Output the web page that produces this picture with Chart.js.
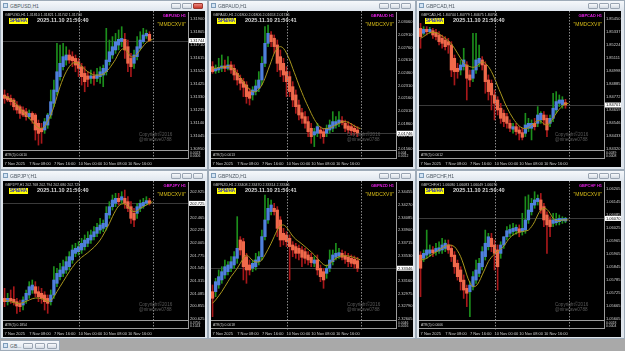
<!DOCTYPE html>
<html><head><meta charset="utf-8">
<script src="https://cdn.jsdelivr.net/npm/chart.js@4/dist/chart.umd.min.js"></script>
<style>
html,body{margin:0;padding:0;width:625px;height:351px;overflow:hidden;background:#a9a9a9;font-family:"Liberation Sans",Arial,sans-serif;}
.win{position:absolute;background:#dfe5ec;border:1px solid #9eabb8;box-sizing:border-box;}
.tbar{position:absolute;left:0;top:0;right:0;height:10px;background:linear-gradient(#f5f8fb,#dfe6ee);}
.ttl{position:absolute;left:9px;top:2px;font-size:5px;line-height:6px;color:#4d5863;white-space:nowrap;}
.icon{position:absolute;left:2px;top:2px;width:5px;height:5px;border:1px solid #7c9cba;background:#d3e3f3;box-sizing:border-box;}
.btn{position:absolute;top:2px;width:10px;height:6px;border:1px solid #9aa5b2;border-radius:1px;background:linear-gradient(#f7f9fb,#d6dde5);box-sizing:border-box;}
.btn.red{background:linear-gradient(#ec8a80,#c8382c);border-color:#9c3a30;}
.blk{position:absolute;left:2px;top:10px;width:202px;height:156px;background:#000;overflow:hidden;}
.blk canvas{position:absolute;left:0;top:0;}
.hdr{position:absolute;left:2px;top:1.5px;font-size:3.6px;line-height:4px;color:#cfcfcf;white-space:nowrap;}
.badge{position:absolute;left:6px;top:7px;width:19px;height:6px;background:#ffff00;color:#1818c8;font-weight:bold;font-size:4.5px;line-height:6px;text-align:center;}
.dt{position:absolute;left:34px;top:6px;font-size:5.6px;font-weight:bold;color:#d8d8d8;line-height:7px;white-space:nowrap;}
.sym{position:absolute;right:19px;top:2.5px;font-size:4px;line-height:4.5px;font-weight:bold;color:#e81ee8;white-space:nowrap;}
.mm{position:absolute;right:19px;top:10px;font-size:5px;line-height:6px;color:#d8bd18;white-space:nowrap;}
.wm{position:absolute;left:136px;top:121px;font-size:4.6px;color:#5a5a5a;line-height:5px;white-space:nowrap;}
.atr{position:absolute;left:0;top:139px;width:186px;height:9px;border-top:1px solid #9c9c9c;border-bottom:1px solid #9c9c9c;border-right:1px solid #9c9c9c;box-sizing:border-box;}
.atrt{position:absolute;left:2px;top:1.5px;font-size:3.4px;line-height:4px;color:#d0d0d0;white-space:nowrap;}
.atrs{position:absolute;left:187px;top:140.5px;font-size:3.4px;color:#d0d0d0;line-height:3.6px;}
.mini{position:absolute;left:0;top:340px;width:60px;height:11px;background:linear-gradient(#f5f8fb,#dfe6ee);border:1px solid #9eabb8;box-sizing:border-box;}
</style></head>
<body>
<div class="mini"><div class="icon" style="top:2px"></div><div class="ttl" style="left:9px;top:2px">GB...</div><div class="btn" style="left:22px;top:2px"></div><div class="btn" style="left:34px;top:2px"></div><div class="btn" style="left:46px;top:2px"></div></div>
<script>
// ---- time axis ----
const timeLabels = ['7 Nov 2025','7 Nov 08:00','7 Nov 16:00','10 Nov 00:00','10 Nov 08:00','10 Nov 16:00'];
const timeLabelIdx = [0, 8, 16, 24, 32, 40];
const slotCount = 60;
const daySepIdx = 24;
const endLineIdx = 48;

// ---- GBPUSD [open, high, low, close] ----
const gbpusdBars = [
[1.31344,1.31381,1.31283,1.31319],[1.31332,1.31356,1.31295,1.31307],[1.31319,1.31344,1.31270,1.31295],[1.31307,1.31319,1.31234,1.31258],
[1.31270,1.31295,1.31209,1.31234],[1.31258,1.31270,1.31172,1.31209],[1.31234,1.31258,1.31185,1.31197],[1.31221,1.31246,1.31160,1.31185],
[1.31185,1.31234,1.31172,1.31209],[1.31209,1.31221,1.31136,1.31160],[1.31197,1.31209,1.31013,1.31087],[1.31136,1.31160,1.30976,1.31062],
[1.31099,1.31136,1.30989,1.31074],[1.31087,1.31172,1.31062,1.31148],[1.31123,1.31209,1.31099,1.31197],[1.31197,1.31381,1.31172,1.31295],
[1.31283,1.31454,1.31258,1.31381],[1.31368,1.31724,1.31344,1.31515],[1.31479,1.31711,1.31454,1.31577],[1.31552,1.31724,1.31528,1.31626],
[1.31601,1.31699,1.31564,1.31638],[1.31638,1.31675,1.31577,1.31601],[1.31626,1.31662,1.31552,1.31596],[1.31613,1.31638,1.31515,1.31564],
[1.31589,1.31613,1.31479,1.31540],[1.31552,1.31577,1.31417,1.31479],[1.31503,1.31552,1.31368,1.31442],[1.31484,1.31515,1.31405,1.31459],
[1.31466,1.31528,1.31430,1.31484],[1.31484,1.31515,1.31417,1.31466],[1.31466,1.31540,1.31442,1.31491],[1.31479,1.31552,1.31430,1.31515],
[1.31491,1.31564,1.31405,1.31540],[1.31515,1.31834,1.31491,1.31601],[1.31589,1.31748,1.31564,1.31662],[1.31638,1.31773,1.31613,1.31699],
[1.31675,1.31797,1.31650,1.31736],[1.31711,1.31822,1.31675,1.31753],[1.31736,1.31846,1.31699,1.31760],[1.31753,1.31797,1.31613,1.31675],
[1.31699,1.31748,1.31515,1.31577],[1.31613,1.31650,1.31479,1.31552],[1.31577,1.31675,1.31540,1.31638],[1.31626,1.31773,1.31601,1.31699],
[1.31687,1.31809,1.31675,1.31748],[1.31736,1.31834,1.31724,1.31785],[1.31778,1.31822,1.31760,1.31797],[1.31790,1.31809,1.31736,1.31744]];
const gbpusdMA = [1.31332,1.31327,1.31312,1.31295,1.31270,1.31246,1.31221,1.31197,1.31172,1.31148,1.31123,1.31104,1.31099,1.31111,1.31148,1.31197,1.31258,1.31332,1.31405,1.31466,1.31515,1.31552,1.31577,1.31582,1.31577,1.31557,1.31533,1.31515,1.31503,1.31491,1.31491,1.31491,1.31498,1.31515,1.31540,1.31572,1.31606,1.31650,1.31680,1.31680,1.31655,1.31626,1.31626,1.31645,1.31675,1.31704,1.31729,1.31743,1.31753];
const gbpusdTicks = [1.31900,1.31805,1.31710,1.31615,1.31520,1.31425,1.31330,1.31235,1.31140,1.31045,1.30950];

// ---- GBPAUD ----
const gbpaudBars = [
[2.02535,2.02594,2.02456,2.02476],[2.02484,2.02555,2.02456,2.02515],[2.02496,2.02634,2.02464,2.02527],[2.02515,2.02673,2.02476,2.02543],
[2.02543,2.02614,2.02476,2.02515],[2.02515,2.02653,2.02496,2.02555],[2.02555,2.02594,2.02456,2.02496],[2.02515,2.02555,2.02377,2.02436],
[2.02456,2.02496,2.02318,2.02377],[2.02397,2.02436,2.02259,2.02338],[2.02357,2.02397,2.02180,2.02290],[2.02318,2.02357,2.02101,2.02180],
[2.02239,2.02278,2.02081,2.02160],[2.02200,2.02298,2.02140,2.02259],[2.02239,2.02377,2.02200,2.02306],[2.02278,2.02476,2.02239,2.02377],
[2.02377,2.02653,2.02318,2.02574],[2.02574,2.03009,2.02535,2.02811],[2.02811,2.03028,2.02772,2.02930],[2.02910,2.02949,2.02772,2.02831],
[2.02871,2.02910,2.02693,2.02772],[2.02792,2.02851,2.02476,2.02574],[2.02653,2.02732,2.02417,2.02496],[2.02574,2.02634,2.02357,2.02436],
[2.02476,2.02535,2.02180,2.02357],[2.02417,2.02476,2.02180,2.02239],[2.02298,2.02357,2.02061,2.02140],[2.02200,2.02259,2.01982,2.02061],
[2.02081,2.02140,2.01903,2.01963],[2.01990,2.02042,2.01864,2.01923],[2.01943,2.02002,2.01805,2.01864],[2.01884,2.01943,2.01706,2.01765],
[2.01805,2.01864,2.01627,2.01706],[2.01726,2.01805,2.01588,2.01765],[2.01746,2.01864,2.01706,2.01825],[2.01785,2.01825,2.01686,2.01746],
[2.01765,2.01805,2.01627,2.01706],[2.01746,2.01844,2.01706,2.01805],[2.01785,2.01903,2.01746,2.01844],[2.01805,2.02002,2.01765,2.01884],
[2.01844,2.01943,2.01805,2.01884],[2.01864,2.02002,2.01825,2.01903],[2.01895,2.01943,2.01844,2.01872],[2.01864,2.01903,2.01765,2.01805],
[2.01833,2.01884,2.01746,2.01785],[2.01825,2.01864,2.01726,2.01777],[2.01805,2.01844,2.01726,2.01765],[2.01785,2.01825,2.01706,2.01746]];
const gbpaudMA = [2.02515,2.02515,2.02523,2.02527,2.02535,2.02535,2.02527,2.02496,2.02456,2.02409,2.02357,2.02306,2.02267,2.02239,2.02239,2.02267,2.02318,2.02397,2.02496,2.02594,2.02693,2.02752,2.02772,2.02752,2.02693,2.02614,2.02515,2.02417,2.02318,2.02227,2.02140,2.02061,2.01982,2.01911,2.01856,2.01817,2.01801,2.01801,2.01809,2.01825,2.01844,2.01864,2.01880,2.01884,2.01876,2.01856,2.01833,2.01813,2.01801];
const gbpaudTicks = [2.03060,2.02910,2.02760,2.02610,2.02460,2.02310,2.02160,2.02010,2.01860,2.01710,2.01560];

// ---- GBPCAD ----
const gbpcadBars = [
[1.85371,1.85415,1.85197,1.85299],[1.85328,1.85386,1.85313,1.85363],[1.85363,1.85386,1.85313,1.85342],[1.85342,1.85380,1.85328,1.85363],
[1.85351,1.85371,1.85284,1.85313],[1.85334,1.85363,1.85269,1.85299],[1.85313,1.85342,1.85226,1.85255],[1.85284,1.85313,1.85197,1.85240],
[1.85269,1.85299,1.85182,1.85211],[1.85255,1.85284,1.85153,1.85226],[1.85226,1.85255,1.84949,1.85007],[1.85109,1.85138,1.84876,1.84993],
[1.85022,1.85066,1.84935,1.84993],[1.85007,1.85095,1.84964,1.85051],[1.85037,1.85197,1.85007,1.85095],[1.85051,1.85080,1.84745,1.84935],
[1.84964,1.85007,1.84862,1.84920],[1.84935,1.85328,1.84905,1.85007],[1.85007,1.85328,1.84978,1.85095],[1.85066,1.85226,1.85037,1.85109],
[1.85095,1.85124,1.85007,1.85051],[1.85051,1.85080,1.84804,1.84905],[1.84920,1.84964,1.84745,1.84818],[1.84891,1.84920,1.84658,1.84789],
[1.84789,1.84833,1.84571,1.84716],[1.84745,1.84774,1.84614,1.84658],[1.84673,1.84716,1.84541,1.84585],[1.84629,1.84658,1.84512,1.84556],
[1.84600,1.84629,1.84498,1.84541],[1.84541,1.84571,1.84469,1.84498],[1.84490,1.84541,1.84454,1.84512],[1.84512,1.84541,1.84440,1.84469],
[1.84483,1.84512,1.84396,1.84454],[1.84460,1.84498,1.84396,1.84419],[1.84454,1.84629,1.84425,1.84527],[1.84498,1.84585,1.84469,1.84541],
[1.84498,1.84571,1.84396,1.84541],[1.84541,1.84585,1.84483,1.84512],[1.84541,1.84687,1.84512,1.84614],[1.84571,1.84643,1.84541,1.84629],
[1.84614,1.84643,1.84527,1.84571],[1.84585,1.84614,1.84425,1.84483],[1.84541,1.84614,1.84512,1.84585],[1.84585,1.84804,1.84556,1.84673],
[1.84658,1.84818,1.84629,1.84731],[1.84716,1.84789,1.84687,1.84745],[1.84702,1.84774,1.84673,1.84745],[1.84722,1.84751,1.84673,1.84701]];
const gbpcadMA = [1.85284,1.85299,1.85319,1.85334,1.85336,1.85334,1.85322,1.85304,1.85284,1.85264,1.85235,1.85197,1.85153,1.85109,1.85071,1.85048,1.85037,1.85031,1.85037,1.85060,1.85077,1.85066,1.85037,1.84993,1.84935,1.84868,1.84804,1.84739,1.84681,1.84629,1.84585,1.84547,1.84518,1.84501,1.84495,1.84504,1.84524,1.84547,1.84565,1.84559,1.84536,1.84527,1.84547,1.84585,1.84629,1.84664,1.84693,1.84710,1.84716];
const gbpcadTicks = [1.85450,1.85337,1.85224,1.85111,1.84998,1.84885,1.84772,1.84659,1.84546,1.84433,1.84320];

// ---- GBPJPY ----
const gbpjpyBars = [
[201.000,201.182,200.849,200.940],[200.940,201.091,200.879,201.000],[201.000,201.152,200.909,200.958],[200.982,201.212,200.879,200.934],
[200.940,201.000,200.728,200.861],[200.909,200.970,200.758,200.849],[200.879,201.030,200.788,200.970],[200.970,201.152,200.909,201.091],
[201.061,201.303,201.000,201.212],[201.152,201.333,201.091,201.242],[201.212,201.303,201.030,201.091],[201.121,201.212,200.940,201.030],
[201.091,201.182,200.909,201.000],[201.061,201.121,200.788,200.940],[201.000,201.061,200.728,200.909],[200.940,201.152,200.879,201.061],
[201.061,201.575,201.000,201.333],[201.273,201.545,201.212,201.454],[201.394,201.636,201.333,201.515],[201.454,201.696,201.394,201.575],
[201.515,201.757,201.454,201.666],[201.575,201.848,201.515,201.757],[201.696,201.969,201.636,201.878],[201.817,201.999,201.757,201.908],
[201.848,202.029,201.787,201.938],[201.878,202.090,201.817,201.999],[201.938,202.150,201.878,202.059],[201.999,202.211,201.938,202.090],
[202.059,202.241,201.999,202.150],[202.120,202.302,202.059,202.211],[202.180,202.362,202.120,202.289],[202.241,202.453,202.180,202.332],
[202.271,202.423,202.211,202.362],[202.302,202.665,202.241,202.544],[202.513,202.756,202.453,202.665],[202.665,202.877,202.604,202.786],
[202.725,202.907,202.665,202.816],[202.816,202.907,202.695,202.756],[202.786,202.937,202.725,202.846],[202.816,202.967,202.634,202.725],
[202.756,202.846,202.574,202.634],[202.665,202.756,202.362,202.453],[202.544,202.634,202.302,202.423],[202.544,202.725,202.453,202.665],
[202.634,202.786,202.574,202.725],[202.677,202.816,202.634,202.743],[202.725,202.846,202.695,202.774],[202.774,202.816,202.695,202.725]];
const gbpjpyMA = [200.970,200.958,200.940,200.922,200.909,200.909,200.922,200.946,200.970,200.994,201.006,201.006,200.994,200.970,200.946,200.958,201.030,201.121,201.212,201.303,201.394,201.484,201.563,201.636,201.696,201.745,201.787,201.829,201.878,201.926,201.987,202.059,202.150,202.253,202.362,202.483,202.592,202.677,202.713,202.713,202.665,202.604,202.574,202.592,202.634,202.665,202.695,202.725,202.756];
const gbpjpyTicks = [202.925,202.695,202.465,202.235,202.005,201.775,201.545,201.315,201.085,200.855,200.625];

// ---- GBPNZD ----
const gbpnzdBars = [
[2.33004,2.33102,2.32639,2.32907],[2.33004,2.33199,2.32931,2.33150],[2.33102,2.33321,2.33053,2.33223],[2.33175,2.33369,2.33126,2.33296],
[2.33248,2.33467,2.33199,2.33369],[2.33296,2.33442,2.33248,2.33394],[2.33345,2.33515,2.33296,2.33442],[2.33394,2.33589,2.33345,2.33515],
[2.33491,2.34100,2.33418,2.33637],[2.33759,2.33808,2.33540,2.33613],[2.33735,2.33783,2.33175,2.33369],[2.33515,2.33564,2.33126,2.33321],
[2.33394,2.33467,2.33248,2.33321],[2.33345,2.33467,2.33296,2.33418],[2.33369,2.33564,2.33321,2.33467],[2.33442,2.33589,2.33394,2.33515],
[2.33515,2.33905,2.33467,2.33808],[2.33808,2.34416,2.33759,2.34051],[2.34051,2.34367,2.34002,2.34221],[2.34173,2.34343,2.34124,2.34270],
[2.34221,2.34294,2.34124,2.34173],[2.34197,2.34246,2.33808,2.33929],[2.34051,2.34100,2.33662,2.33759],[2.33856,2.33929,2.33686,2.33759],
[2.33832,2.33881,2.33662,2.33735],[2.33783,2.33832,2.33175,2.33662],[2.33686,2.33735,2.33515,2.33613],[2.33662,2.33710,2.33491,2.33564],
[2.33637,2.33686,2.33467,2.33564],[2.33613,2.33662,2.33369,2.33506],[2.33589,2.33637,2.33418,2.33491],[2.33540,2.33589,2.33394,2.33467],
[2.33506,2.33564,2.33369,2.33428],[2.33418,2.33515,2.33369,2.33467],[2.33467,2.33540,2.33248,2.33321],[2.33345,2.33394,2.33150,2.33223],
[2.33296,2.33345,2.33053,2.33175],[2.33272,2.33394,2.33199,2.33345],[2.33345,2.33613,2.33296,2.33467],[2.33442,2.33613,2.33394,2.33540],
[2.33506,2.33710,2.33467,2.33564],[2.33525,2.33637,2.33491,2.33574],[2.33564,2.33613,2.33467,2.33506],[2.33525,2.33589,2.33418,2.33477],
[2.33506,2.33564,2.33369,2.33442],[2.33491,2.33540,2.33369,2.33418],[2.33477,2.33525,2.33345,2.33409],[2.33457,2.33506,2.33296,2.33346]];
const gbpnzdMA = [2.32834,2.32883,2.32941,2.33004,2.33077,2.33150,2.33223,2.33282,2.33345,2.33418,2.33491,2.33540,2.33506,2.33457,2.33438,2.33438,2.33467,2.33540,2.33623,2.33710,2.33808,2.33905,2.33963,2.33978,2.33944,2.33881,2.33817,2.33769,2.33735,2.33700,2.33662,2.33623,2.33584,2.33540,2.33491,2.33442,2.33399,2.33384,2.33408,2.33457,2.33491,2.33515,2.33525,2.33530,2.33525,2.33515,2.33501,2.33486,2.33467];
const gbpnzdTicks = [2.34455,2.34270,2.34085,2.33900,2.33715,2.33530,2.33345,2.33160,2.32975,2.32790,2.32605];

// ---- GBPCHF ----
const gbpchfBars = [
[1.05900,1.05916,1.05707,1.05839],[1.05885,1.05924,1.05870,1.05908],[1.05900,1.06016,1.05885,1.05924],[1.05908,1.05947,1.05893,1.05924],
[1.05924,1.05939,1.05893,1.05911],[1.05916,1.05955,1.05900,1.05931],[1.05919,1.05962,1.05908,1.05934],[1.05924,1.05978,1.05908,1.05947],
[1.05931,1.05970,1.05916,1.05955],[1.05947,1.05970,1.05908,1.05924],[1.05931,1.05947,1.05870,1.05893],[1.05900,1.05916,1.05815,1.05846],
[1.05862,1.05877,1.05784,1.05800],[1.05831,1.05846,1.05738,1.05777],[1.05784,1.05808,1.05699,1.05738],[1.05746,1.05761,1.05661,1.05723],
[1.05730,1.05777,1.05614,1.05761],[1.05754,1.05823,1.05738,1.05800],[1.05784,1.05877,1.05769,1.05831],[1.05815,1.05885,1.05800,1.05862],
[1.05846,1.05939,1.05831,1.05916],[1.05893,1.06016,1.05877,1.05955],[1.05939,1.06001,1.05924,1.05985],[1.05978,1.06001,1.05916,1.05939],
[1.05947,1.05970,1.05831,1.05908],[1.05924,1.05947,1.05738,1.05846],[1.05908,1.05962,1.05885,1.05947],[1.05947,1.05985,1.05931,1.05985],
[1.05985,1.06032,1.05970,1.06013],[1.06001,1.06040,1.05985,1.06019],[1.06009,1.06047,1.05993,1.06024],[1.06013,1.06040,1.05997,1.06029],
[1.06022,1.06040,1.05985,1.06007],[1.06009,1.06094,1.05993,1.06024],[1.06016,1.06171,1.06001,1.06063],[1.06063,1.06179,1.06047,1.06109],
[1.06101,1.06163,1.06086,1.06140],[1.06132,1.06194,1.06117,1.06156],[1.06148,1.06179,1.06132,1.06163],[1.06156,1.06186,1.06094,1.06109],
[1.06125,1.06140,1.06032,1.06063],[1.06086,1.06101,1.05908,1.06040],[1.06063,1.06078,1.05985,1.06032],[1.06047,1.06094,1.06032,1.06063],
[1.06050,1.06094,1.06039,1.06066],[1.06055,1.06086,1.06040,1.06070],[1.06060,1.06078,1.06047,1.06069],[1.06058,1.06075,1.06050,1.06070]];
const gbpchfMA = [1.05877,1.05880,1.05885,1.05896,1.05905,1.05914,1.05924,1.05933,1.05942,1.05947,1.05945,1.05939,1.05920,1.05893,1.05854,1.05808,1.05772,1.05754,1.05757,1.05777,1.05808,1.05839,1.05870,1.05890,1.05905,1.05916,1.05927,1.05942,1.05962,1.05981,1.05993,1.06001,1.06006,1.06009,1.06012,1.06016,1.06032,1.06055,1.06086,1.06109,1.06117,1.06112,1.06094,1.06070,1.06060,1.06060,1.06063,1.06063,1.06063];
const gbpchfTicks = [1.06205,1.06145,1.06085,1.06025,1.05965,1.05905,1.05845,1.05785,1.05725,1.05665,1.05605];

// ---- panel texts ----
const symbols = ['GBPUSD','GBPAUD','GBPCAD','GBPJPY','GBPNZD','GBPCHF'];
const headerPrices = ['1.31810 1.31821 1.31742 1.31744','2.01800 2.01806 2.01653 2.01746','1.84744 1.84779 1.84675 1.84701',
                      '202.768 202.794 202.680 202.725','2.33408 2.33470 2.33314 2.33346','1.06080 1.06083 1.06049 1.06070'];
const clockTexts = ['2025.11.10 21:50:40','2025.11.10 21:50:41','2025.11.10 21:50:40','2025.11.10 21:50:40','2025.11.10 21:50:41','2025.11.10 21:50:40'];
const atrTexts = ['ATR(5) 0.0010','ATR(5) 0.0013','ATR(5) 0.0012','ATR(5) 0.1854','ATR(5) 0.0018','ATR(5) 0.0006'];
const atrScales = [['0.0023','0.0006'],['0.004','0.0012'],['0.0039','0.0008'],['0.3756','0.1024'],['0.0046','0.0016'],['0.0018','0.0004']];

const panels = [
 {bars:gbpusdBars, ma:gbpusdMA, ticks:gbpusdTicks, min:1.30940, max:1.31954, dec:5, wx:0,   wy:0,   ww:208, wh:170, active:true},
 {bars:gbpaudBars, ma:gbpaudMA, ticks:gbpaudTicks, min:2.01548, max:2.03182, dec:5, wx:208, wy:0,   ww:208, wh:170},
 {bars:gbpcadBars, ma:gbpcadMA, ticks:gbpcadTicks, min:1.84308, max:1.85514, dec:5, wx:416, wy:0,   ww:209, wh:170},
 {bars:gbpjpyBars, ma:gbpjpyMA, ticks:gbpjpyTicks, min:200.607, max:203.113, dec:3, wx:0,   wy:170, ww:208, wh:169},
 {bars:gbpnzdBars, ma:gbpnzdMA, ticks:gbpnzdTicks, min:2.32590, max:2.34606, dec:5, wx:208, wy:170, ww:208, wh:169},
 {bars:gbpchfBars, ma:gbpchfMA, ticks:gbpchfTicks, min:1.05599, max:1.06239, dec:5, wx:416, wy:170, ww:209, wh:169}
];

const xLabels = Array.from({length: slotCount}, (_, i) => { const k = timeLabelIdx.indexOf(i); return k >= 0 ? timeLabels[k] : ''; });

const mtPlugin = {
  id: 'mt',
  beforeDatasetsDraw(chart, args, o) {
    const {ctx, chartArea: a, scales: {y}} = chart;
    const py = Math.round(y.getPixelForValue(o.bid)) + 0.5;
    ctx.save(); ctx.strokeStyle = '#3a3a3a'; ctx.lineWidth = 1;
    ctx.beginPath(); ctx.moveTo(a.left, py); ctx.lineTo(a.right, py); ctx.stroke(); ctx.restore();
  },
  afterDraw(chart, args, o) {
    const {ctx, chartArea: a, scales: {x, y}} = chart;
    ctx.save();
    ctx.strokeStyle = '#8a8a8a'; ctx.lineWidth = 1; ctx.setLineDash([1.5, 1.5]);
    for (const i of [daySepIdx, endLineIdx]) {
      const px = Math.round(x.getPixelForValue(i)) + 0.5;
      ctx.beginPath(); ctx.moveTo(px, 0); ctx.lineTo(px, 150); ctx.stroke();
    }
    ctx.setLineDash([]);
    const py = y.getPixelForValue(o.bid);
    ctx.fillStyle = '#ffffff'; ctx.fillRect(a.right + 1, py - 2.5, 16, 5);
    ctx.fillStyle = '#000000'; ctx.font = '4px "Liberation Sans", Arial'; ctx.textBaseline = 'middle'; ctx.textAlign = 'left';
    ctx.fillText(o.bid.toFixed(o.dec), a.right + 2, py + 0.3);
    ctx.restore();
  }
};

panels.forEach((p, n) => {
  const sym = symbols[n];
  const win = document.createElement('div');
  win.className = 'win';
  Object.assign(win.style, {left: p.wx + 'px', top: p.wy + 'px', width: p.ww + 'px', height: p.wh + 'px'});
  win.innerHTML =
    '<div class="tbar"><div class="icon"></div><div class="ttl">' + sym + ',H1</div>' +
    '<div class="btn" style="right:26px"></div><div class="btn" style="right:15px"></div>' +
    '<div class="btn' + (p.active ? ' red' : '') + '" style="right:4px"></div></div>' +
    '<div class="blk"><canvas width="202" height="156" style="width:202px;height:156px"></canvas>' +
    '<div class="hdr">' + sym + ',H1 ' + headerPrices[n] + '</div>' +
    '<div class="badge">SPB/HA</div>' +
    '<div class="dt">' + clockTexts[n] + '</div>' +
    '<div class="sym">' + sym + ' H1</div>' +
    '<div class="mm">"MMDCXVII"</div>' +
    '<div class="wm">Copyright©2016<br>@ninerave0788</div>' +
    '<div class="atr"><div class="atrt">' + atrTexts[n] + '</div></div>' +
    '<div class="atrs">' + atrScales[n][0] + '<br>' + atrScales[n][1] + '</div>' +
    '</div>';
  document.body.appendChild(win);
  const canvas = win.querySelector('canvas');
  const bars = p.bars;
  const up = b => b[3] >= b[0];
  const last = bars[bars.length - 1][3];
  new Chart(canvas, {
    type: 'bar',
    data: {
      labels: xLabels,
      datasets: [
        {type: 'line', data: p.ma, borderColor: '#a8961c', borderWidth: 1, pointRadius: 0, tension: 0.35, order: 1},
        {type: 'bar', data: bars.map(b => [b[0], b[3]]), backgroundColor: bars.map(b => up(b) ? '#4f80dc' : '#f0694b'),
         barThickness: 2.6, grouped: false, minBarLength: 1, borderWidth: 0, order: 2},
        {type: 'bar', data: bars.map(b => [b[2], b[1]]), backgroundColor: bars.map(b => up(b) ? '#1c8f1c' : '#a8181a'),
         barThickness: 1, grouped: false, borderWidth: 0, order: 3}
      ]
    },
    options: {
      responsive: false, animation: false, devicePixelRatio: 1,
      layout: {padding: {top: 1, left: 0, right: 0, bottom: 0}},
      plugins: {legend: {display: false}, tooltip: {enabled: false}, mt: {bid: last, dec: p.dec}},
      scales: {
        x: {
          type: 'category', offset: true,
          grid: {display: false, drawTicks: false}, border: {display: false},
          ticks: {autoSkip: false, maxRotation: 0, minRotation: 0, align: 'start', padding: 11,
                  color: '#cfcfcf', font: {size: 4, family: '"Liberation Sans", Arial'}},
          afterFit: s => { s.height = 17; s.paddingLeft = 0; s.paddingRight = 0; }
        },
        y: {
          position: 'right', min: p.min, max: p.max,
          grid: {display: false, drawTicks: false}, border: {display: true, color: '#9c9c9c', width: 1},
          ticks: {padding: 2, autoSkip: false, color: '#cfcfcf', font: {size: 4, family: '"Liberation Sans", Arial'},
                  callback: v => Number(v).toFixed(p.dec)},
          afterBuildTicks: s => { s.ticks = p.ticks.map(v => ({value: v})); },
          afterFit: s => { s.width = 17; s.paddingTop = 0; s.paddingBottom = 0; }
        }
      }
    },
    plugins: [mtPlugin]
  });
});
</script>
</body></html>
